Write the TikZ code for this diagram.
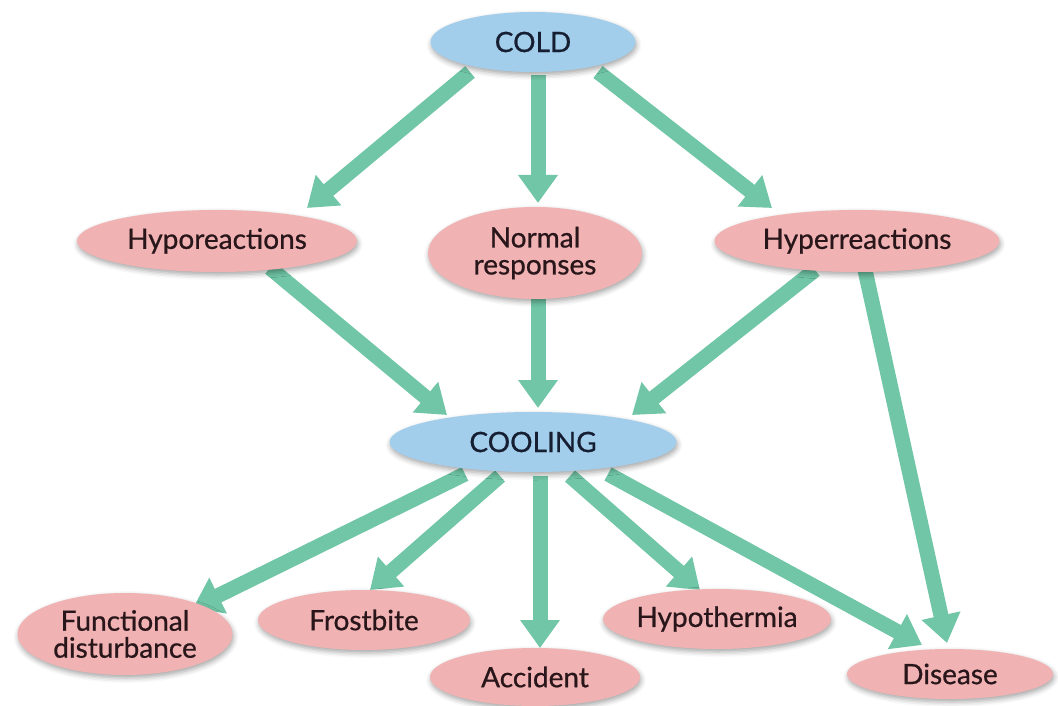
\documentclass[tikz,border=0pt]{standalone}
\usepackage{fontspec}
\setmainfont{Lato}
\newfontfamily\labelfont{Lato}[FakeBold=0.7]
\usetikzlibrary{arrows.meta,shapes.geometric,shadows.blur,backgrounds,calc}
\definecolor{arrgreen}{RGB}{112,198,166}
\definecolor{pinkfill}{RGB}{240,178,178}
\definecolor{bluefill}{RGB}{162,206,236}
\definecolor{txtpink}{RGB}{40,22,26}
\definecolor{txtblue}{RGB}{22,30,50}
\begin{document}
\begin{tikzpicture}[x=1pt,y=-1pt,
  base/.style={ellipse,inner sep=0pt,align=center,
    font=\labelfont\fontsize{28}{27}\selectfont,
    blur shadow={shadow xshift=1pt,shadow yshift=-3pt,shadow blur radius=5pt,shadow opacity=35}},
  pinknode/.style={base,fill=pinkfill,text=txtpink},
  bluenode/.style={base,fill=bluefill,text=txtblue},
  arr/.style={draw=arrgreen,line width=15pt,
    -{Triangle[width=38pt,length=28pt]}}]
\useasboundingbox (0,0) rectangle (1058,706);
\node[bluenode,minimum width=205pt,minimum height=60pt] (cold) at (533,42) {COLD};
\node[pinknode,minimum width=280pt,minimum height=62pt] (hypo) at (217,241) {Hyporeactions};
\node[pinknode,minimum width=214pt,minimum height=92pt] (normal) at (535,253) {Normal\\responses};
\node[pinknode,minimum width=285pt,minimum height=62pt] (hyper) at (857,241) {Hyperreactions};
\node[bluenode,minimum width=287pt,minimum height=60pt] (cooling) at (533,442) {COOLING};
\node[pinknode,minimum width=215pt,minimum height=82pt] (func) at (125,634) {Functional\\disturbance};
\node[pinknode,minimum width=212pt,minimum height=60pt] (frost) at (364,620) {Frostbite};
\node[pinknode,minimum width=210pt,minimum height=58pt] (acc) at (535,677) {Accident};
\node[pinknode,minimum width=222pt,minimum height=60pt] (hypoth) at (717,619) {Hypothermia};
\node[pinknode,minimum width=206pt,minimum height=50pt] (dis) at (950,674) {Disease};
\begin{scope}[on background layer]
\draw[arr] ($(cold.center)+(-63,30)$) -- ($(hypo.center)+(90,-33)$);
\draw[arr] ($(cold.center)+(5,33)$) -- ($(normal.center)+(3,-50)$);
\draw[arr] ($(cold.center)+(65,30)$) -- ($(hyper.center)+(-85,-33)$);
\draw[arr] ($(hypo.center)+(53,27)$) -- ($(cooling.center)+(-86,-27)$);
\draw[arr] ($(normal.center)+(3,43)$) -- ($(cooling.center)+(5,-34)$);
\draw[arr] ($(hyper.center)+(-42,29)$) -- ($(cooling.center)+(99,-27)$);
\draw[arr] ($(hyper.center)+(8,29)$) -- ($(dis.center)+(-3,-31)$);
\draw[arr] ($(cooling.center)+(-68,32)$) -- ($(func.center)+(68,-26)$);
\draw[arr] ($(cooling.center)+(-33,34)$) -- ($(frost.center)+(6,-30)$);
\draw[arr] ($(cooling.center)+(7,34)$) -- ($(acc.center)+(5,-29)$);
\draw[arr] ($(cooling.center)+(37,34)$) -- ($(hypoth.center)+(-17,-29)$);
\draw[arr] ($(cooling.center)+(75,32)$) -- ($(dis.center)+(-28,-29)$);
\end{scope}
\end{tikzpicture}
\end{document}
